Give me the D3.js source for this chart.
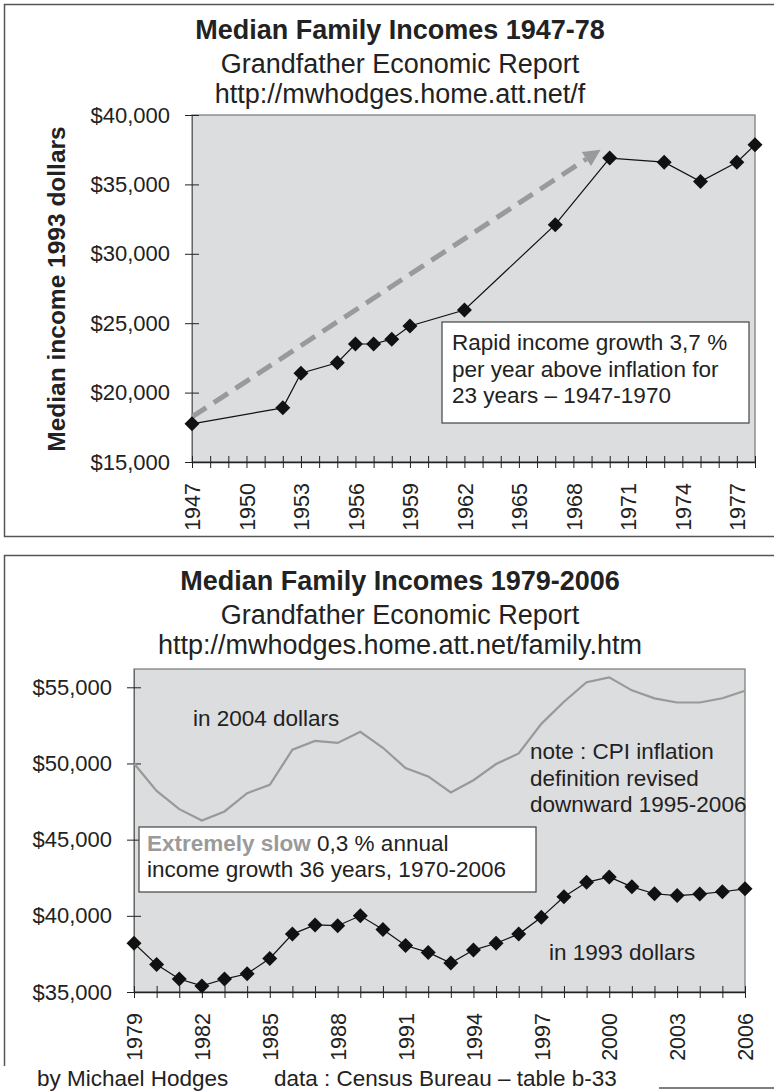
<!DOCTYPE html>
<html>
<head>
<meta charset="utf-8">
<script src="https://cdn.jsdelivr.net/npm/d3@7"></script>
<style>
  body { margin: 0; background: #fff; }
  text { font-family: "Liberation Sans", Arial, Helvetica, sans-serif; fill: #222; }
</style>
</head>
<body>
<div id="chart"></div>
<script>
var svgWidth = 774;
var svgHeight = 1091;

// top chart: 1947-78, 1993 dollars
var topYears = [1947, 1952, 1953, 1955, 1956, 1957, 1958, 1959, 1962, 1967, 1970, 1973, 1975, 1977, 1978];
var topIncome = [17750, 18900, 21400, 22150, 23500, 23500, 23850, 24800, 25950, 32100, 36900, 36600, 35200, 36600, 37850];
var topYTicks = [15000, 20000, 25000, 30000, 35000, 40000];
var topXLabels = [1947, 1950, 1953, 1956, 1959, 1962, 1965, 1968, 1971, 1974, 1977];
var arrowFrom = [1947, 18250];
var arrowTo = [1969.5, 37500];

// bottom chart: 1979-2006
var botYears = [1979, 1980, 1981, 1982, 1983, 1984, 1985, 1986, 1987, 1988, 1989, 1990, 1991, 1992,
  1993, 1994, 1995, 1996, 1997, 1998, 1999, 2000, 2001, 2002, 2003, 2004, 2005, 2006];
var income1993 = [38200, 36800, 35850, 35400, 35850, 36200, 37200, 38800, 39400, 39350, 40000, 39100, 38050, 37600,
  36900, 37750, 38200, 38800, 39900, 41250, 42200, 42550, 41900, 41450, 41330, 41430, 41580, 41770];
var income2004 = [50000, 48200, 47000, 46250, 46850, 48050, 48600, 50900, 51480, 51350, 52080, 51030, 49700, 49150,
  48100, 48900, 49960, 50660, 52600, 54050, 55330, 55650, 54800, 54270, 54000, 54000, 54280, 54770];
var botYTicks = [35000, 40000, 45000, 50000, 55000];
var botXLabels = [1979, 1982, 1985, 1988, 1991, 1994, 1997, 2000, 2003, 2006];

var moneyFmt = function(d) { return "$" + d3.format(",")(d); };

var svg = d3
.select("#chart")
.append("svg")
.attr("width", svgWidth)
.attr("height", svgHeight);

svg.append("rect")
.attr("width", svgWidth)
.attr("height", svgHeight)
.attr("fill", "#fff");

// outer frames (run off the right edge)
svg.append("rect")
.attr("x", 4.5).attr("y", 4.5)
.attr("width", 820).attr("height", 532)
.attr("fill", "none").attr("stroke", "#555").attr("stroke-width", 1.5);

svg.append("rect")
.attr("x", 4.5).attr("y", 555.5)
.attr("width", 820).attr("height", 532.5)
.attr("fill", "none").attr("stroke", "#555").attr("stroke-width", 1.5);

function titles(top, title, url) {
    svg.append("text")
    .attr("x", 400).attr("y", top + 35)
    .attr("text-anchor", "middle")
    .attr("font-size", 27).attr("font-weight", "bold")
    .text(title);
    svg.append("text")
    .attr("x", 400).attr("y", top + 69)
    .attr("text-anchor", "middle")
    .attr("font-size", 27)
    .text("Grandfather Economic Report");
    svg.append("text")
    .attr("x", 400).attr("y", top + 99)
    .attr("text-anchor", "middle")
    .attr("font-size", 27)
    .text(url);
}

function diamond(g, x, y) {
    var s = 7.5;
    g.append("path")
    .attr("d", "M" + x + "," + (y - s) + "L" + (x + s) + "," + y + "L" + x + "," + (y + s) + "L" + (x - s) + "," + y + "Z")
    .attr("fill", "#111");
}

function plotFrame(xScale, yScale, yTicks, allYears, labelYears) {
    var x0 = xScale.range()[0], x1 = xScale.range()[1];
    var y0 = yScale.range()[0], y1 = yScale.range()[1];

    svg.append("rect")
    .attr("x", x0).attr("y", y1)
    .attr("width", x1 - x0).attr("height", y0 - y1)
    .attr("fill", "#dcdddf")
    .attr("stroke", "#777").attr("stroke-width", 1.2);

    var yAxis = d3.axisLeft(yScale)
    .tickValues(yTicks)
    .tickFormat(moneyFmt)
    .tickSizeInner(7)
    .tickSizeOuter(0)
    .tickPadding(15);

    var gy = svg.append("g")
    .attr("transform", "translate(" + x0 + ",0)")
    .call(yAxis);
    gy.select(".domain").attr("stroke", "#666");
    gy.selectAll(".tick line").attr("x1", 7).attr("stroke", "#222");
    gy.selectAll(".tick text")
    .attr("font-size", 22)
    .attr("font-family", "Liberation Sans, Arial, sans-serif")
    .attr("fill", "#222");

    var xAxis = d3.axisBottom(xScale)
    .tickValues(allYears)
    .tickFormat(function(d) { return labelYears.indexOf(d) >= 0 ? d : ""; })
    .tickSizeInner(6)
    .tickSizeOuter(0);

    var gx = svg.append("g")
    .attr("transform", "translate(0," + y0 + ")")
    .call(xAxis);
    gx.select(".domain").attr("stroke", "#222").attr("stroke-width", 1.3);
    gx.selectAll(".tick line").attr("y1", -6).attr("stroke", "#222");
    gx.selectAll(".tick text")
    .attr("font-size", 21.5)
    .attr("font-family", "Liberation Sans, Arial, sans-serif")
    .attr("fill", "#222")
    .attr("transform", "rotate(-90)")
    .attr("text-anchor", "end")
    .attr("x", -21)
    .attr("y", 0)
    .attr("dy", "0.36em");
}

function noteBox(x, y, w, h) {
    svg.append("rect")
    .attr("x", x).attr("y", y)
    .attr("width", w).attr("height", h)
    .attr("fill", "#fff")
    .attr("stroke", "#444").attr("stroke-width", 1.2);
}

// ---------- top chart ----------
titles(4, "Median Family Incomes 1947-78", "http://mwhodges.home.att.net/f");

var xTop = d3.scaleLinear().domain([1947, 1978]).range([192, 755]);
var yTop = d3.scaleLinear().domain([15000, 40000]).range([462, 115]);

plotFrame(xTop, yTop, topYTicks, d3.range(1947, 1979), topXLabels);

svg.append("text")
.attr("transform", "translate(56,289)rotate(-90)")
.attr("text-anchor", "middle")
.attr("dy", "0.36em")
.attr("font-size", 24.5)
.attr("font-weight", "bold")
.text("Median income 1993 dollars");

// dashed growth arrow
var ax1 = xTop(arrowFrom[0]), ay1 = yTop(arrowFrom[1]);
var ax2 = xTop(arrowTo[0]), ay2 = yTop(arrowTo[1]);
var ang = Math.atan2(ay2 - ay1, ax2 - ax1);
var headLen = 17, headW = 8.5;
var bx = ax2 - headLen * Math.cos(ang), by = ay2 - headLen * Math.sin(ang);

svg.append("line")
.attr("x1", ax1).attr("y1", ay1)
.attr("x2", bx).attr("y2", by)
.attr("stroke", "#9a9a9a")
.attr("stroke-width", 5)
.attr("stroke-dasharray", "17,9");

svg.append("path")
.attr("d", "M" + ax2 + "," + ay2 +
  "L" + (bx + headW * Math.sin(ang)) + "," + (by - headW * Math.cos(ang)) +
  "L" + (bx - headW * Math.sin(ang)) + "," + (by + headW * Math.cos(ang)) + "Z")
.attr("fill", "#9a9a9a");

var topLine = d3.line()
.x(function(d, i) { return xTop(topYears[i]); })
.y(function(d) { return yTop(d); });

svg.append("path")
.datum(topIncome)
.attr("d", topLine)
.attr("fill", "none")
.attr("stroke", "#111")
.attr("stroke-width", 1.2);

var topPts = svg.append("g");
topIncome.forEach(function(d, i) {
    diamond(topPts, xTop(topYears[i]), yTop(d));
});

noteBox(442, 322, 307, 101);
var topNote = ["Rapid income growth 3,7 %", "per year above inflation for", "23 years \u2013 1947-1970"];
topNote.forEach(function(t, i) {
    svg.append("text")
    .attr("x", 452).attr("y", 350 + i * 26.5)
    .attr("font-size", 22.5)
    .text(t);
});

// ---------- bottom chart ----------
titles(555, "Median Family Incomes 1979-2006", "http://mwhodges.home.att.net/family.htm");

var xBot = d3.scaleLinear().domain([1979, 2006]).range([134, 745]);
var yBot = d3.scaleLinear().domain([35000, 56200]).range([992, 669]);

plotFrame(xBot, yBot, botYTicks, botYears, botXLabels);

var botLine = d3.line()
.x(function(d, i) { return xBot(botYears[i]); })
.y(function(d) { return yBot(d); });

svg.append("path")
.datum(income2004)
.attr("d", botLine)
.attr("fill", "none")
.attr("stroke", "#999")
.attr("stroke-width", 2.2);

svg.append("path")
.datum(income1993)
.attr("d", botLine)
.attr("fill", "none")
.attr("stroke", "#111")
.attr("stroke-width", 1.2);

var botPts = svg.append("g");
income1993.forEach(function(d, i) {
    diamond(botPts, xBot(botYears[i]), yBot(d));
});

svg.append("text")
.attr("x", 193).attr("y", 726)
.attr("font-size", 22.5)
.text("in 2004 dollars");

var cpiNote = ["note : CPI inflation", "definition revised", "downward 1995-2006"];
cpiNote.forEach(function(t, i) {
    svg.append("text")
    .attr("x", 530).attr("y", 759 + i * 26.5)
    .attr("font-size", 22.5)
    .text(t);
});

svg.append("text")
.attr("x", 549).attr("y", 960)
.attr("font-size", 22.5)
.text("in 1993 dollars");

noteBox(139, 827, 397, 65);
var slow = svg.append("text")
.attr("x", 147).attr("y", 851)
.attr("font-size", 22.5);
slow.append("tspan")
.attr("font-weight", "bold")
.style("fill", "#9a9a9a")
.text("Extremely slow");
slow.append("tspan")
.text(" 0,3 % annual");
svg.append("text")
.attr("x", 147).attr("y", 877)
.attr("font-size", 22.5)
.text("income growth 36 years, 1970-2006");

// footer strip covering the frame corner
svg.append("rect")
.attr("x", 0).attr("y", 1066)
.attr("width", 659).attr("height", 25)
.attr("fill", "#fff");

svg.append("text")
.attr("x", 37).attr("y", 1086)
.attr("font-size", 22.5)
.text("by Michael Hodges");

svg.append("text")
.attr("x", 274).attr("y", 1086)
.attr("font-size", 22.5)
.text("data : Census Bureau \u2013 table b-33");
</script>
</body>
</html>
